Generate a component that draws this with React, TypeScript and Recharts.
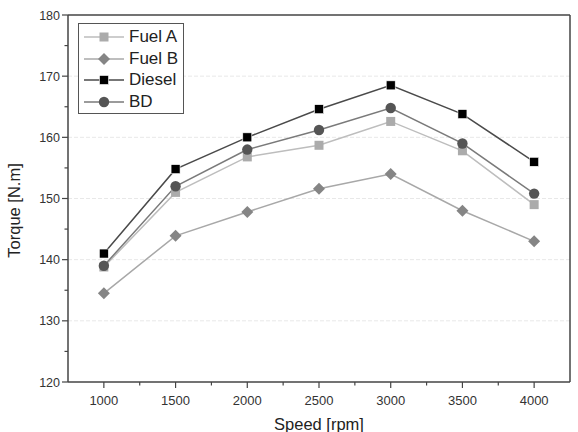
import React from "react";
import {
  CartesianGrid,
  Label,
  Line,
  LineChart,
  ReferenceLine,
  XAxis,
  YAxis,
} from "recharts";

const speeds = [1000, 1500, 2000, 2500, 3000, 3500, 4000];
const fuelA = [138.8, 151, 156.8, 158.7, 162.6, 157.8, 149];
const fuelB = [134.5, 143.9, 147.8, 151.6, 154, 148, 143];
const diesel = [141, 154.8, 160, 164.6, 168.5, 163.8, 156];
const bd = [139, 152, 158, 161.2, 164.8, 159, 150.8];

const xTicks = [1000, 1250, 1500, 1750, 2000, 2250, 2500, 2750, 3000, 3250, 3500, 3750, 4000];
const yTicks = [120, 125, 130, 135, 140, 145, 150, 155, 160, 165, 170, 175, 180];
const yGrid = [130, 140, 150, 160, 170];

const data = speeds.map((s, i) => ({
  speed: s,
  fuelA: fuelA[i],
  fuelB: fuelB[i],
  diesel: diesel[i],
  bd: bd[i],
}));

type Shape = "square" | "diamond" | "circle";

const series: { key: string; name: string; line: string; fill: string; shape: Shape }[] = [
  { key: "fuelA", name: "Fuel A", line: "#bdbdbd", fill: "#ababab", shape: "square" },
  { key: "fuelB", name: "Fuel B", line: "#a8a8a8", fill: "#858585", shape: "diamond" },
  { key: "diesel", name: "Diesel", line: "#4a4a4a", fill: "#000000", shape: "square" },
  { key: "bd", name: "BD", line: "#7a7a7a", fill: "#555555", shape: "circle" },
];

const FONT = "'Liberation Sans', Arial, sans-serif";
const AXIS = "#444";

function Marker({ shape, cx, cy, fill }: { shape: Shape; cx: number; cy: number; fill: string }) {
  if (shape === "square") {
    return <rect x={cx - 4.5} y={cy - 4.5} width={9} height={9} fill={fill} stroke={fill === "#000000" ? "#fff" : "none"} strokeWidth={0.6} />;
  }
  if (shape === "diamond") {
    const r = 6;
    return <polygon points={`${cx},${cy - r} ${cx + r},${cy} ${cx},${cy + r} ${cx - r},${cy}`} fill={fill} />;
  }
  return <circle cx={cx} cy={cy} r={5.2} fill={fill} />;
}

function XTick(props: any) {
  const { x, y, payload } = props;
  const major = payload.value % 500 === 0;
  return (
    <g>
      <line x1={x} y1={y} x2={x} y2={y + (major ? 6 : 3.5)} stroke={AXIS} strokeWidth={1.2} />
      {major && (
        <text x={x} y={y + 23} textAnchor="middle" fontSize={13} fontFamily={FONT} fill="#333">
          {payload.value}
        </text>
      )}
    </g>
  );
}

function YTick(props: any) {
  const { x, y, payload } = props;
  const major = payload.value % 10 === 0;
  return (
    <g>
      <line x1={x} y1={y} x2={x - (major ? 6 : 3.5)} y2={y} stroke={AXIS} strokeWidth={1.2} />
      {major && (
        <text x={x - 8} y={y + 4.5} textAnchor="end" fontSize={12.5} fontFamily={FONT} fill="#333">
          {payload.value}
        </text>
      )}
    </g>
  );
}

function LegendBox() {
  return (
    <div
      style={{
        position: "absolute",
        left: 78,
        top: 23,
        border: "1px solid #555",
        width: 106,
        height: 91,
        background: "#fff",
        boxSizing: "border-box",
        paddingTop: 2,
      }}
    >
      {series.map((s) => (
        <div key={s.key} style={{ display: "flex", alignItems: "center", height: 21.7 }}>
          <svg width={46} height={16} style={{ marginLeft: 2 }}>
            <line x1={3} y1={8} x2={43} y2={8} stroke={s.line} strokeWidth={1.5} />
            <Marker shape={s.shape} cx={23} cy={8} fill={s.fill} />
          </svg>
          <span style={{ fontFamily: FONT, fontSize: 17, color: "#222", marginLeft: 2, lineHeight: "20px" }}>{s.name}</span>
        </div>
      ))}
    </div>
  );
}

export default function App() {
  return (
    <div style={{ position: "absolute", left: 0, top: 0, width: 578, height: 432, background: "#fff" }}>
      <LineChart width={578} height={432} data={data} margin={{ top: 15, right: 8, left: 0, bottom: 0 }}>
        <CartesianGrid horizontal vertical={false} horizontalValues={yGrid} stroke="#e8e8e8" strokeDasharray="4 2" />
        <XAxis
          dataKey="speed"
          type="number"
          domain={[750, 4250]}
          ticks={xTicks}
          interval={0}
          height={50}
          tickSize={0}
          tickMargin={0}
          tickLine={false}
          tick={<XTick />}
          axisLine={{ stroke: AXIS, strokeWidth: 1.5 }}
        >
          <Label value="Speed [rpm]" position="insideBottom" offset={2} style={{ fontFamily: FONT, fontSize: 16.5, fill: "#222" }} />
        </XAxis>
        <YAxis
          type="number"
          domain={[120, 180]}
          ticks={yTicks}
          interval={0}
          width={68}
          tickSize={0}
          tickMargin={0}
          tickLine={false}
          tick={<YTick />}
          axisLine={{ stroke: AXIS, strokeWidth: 1.5 }}
        >
          <Label
            value="Torque [N.m]"
            angle={-90}
            position="insideLeft"
            offset={14}
            dy={12}
            style={{ fontFamily: FONT, fontSize: 16.5, fill: "#222", textAnchor: "middle" }}
          />
        </YAxis>
        <ReferenceLine y={180} stroke={AXIS} strokeWidth={1.5} />
        <ReferenceLine x={4250} stroke={AXIS} strokeWidth={1.5} />
        {series.map((s) => (
          <Line
            key={s.key}
            dataKey={s.key}
            name={s.name}
            stroke={s.line}
            strokeWidth={1.5}
            isAnimationActive={false}
            dot={(p: any) => <Marker key={`${s.key}-${p.index}`} shape={s.shape} cx={p.cx} cy={p.cy} fill={s.fill} />}
            activeDot={false}
          />
        ))}
      </LineChart>
      <LegendBox />
    </div>
  );
}
